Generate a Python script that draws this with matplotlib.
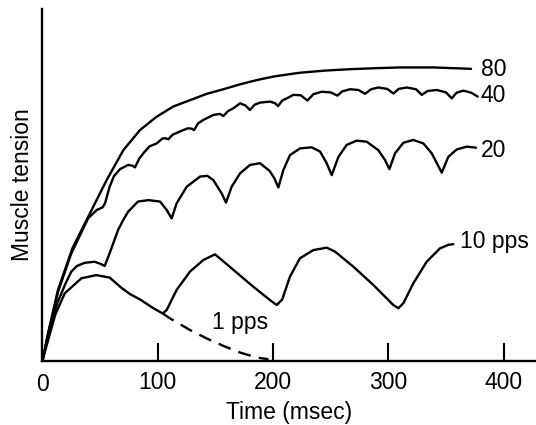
import matplotlib
matplotlib.use("Agg")
import matplotlib.pyplot as plt

plt.rcParams['font.family'] = ['Liberation Sans', 'DejaVu Sans']

# tension, arbitrary units (0 = baseline, 100 = top of axis)
t80 = [0, 5, 13.5, 26, 41.3, 55.7, 70.2, 84.6, 99.1, 113.5, 128, 142.5, 156.9,
       171.4, 185.8, 200.3, 214.7, 223.4, 245, 266.8, 290, 310.1, 339, 371.7]
T80 = [0, 8, 20.2, 32, 42.0, 51.4, 59.9, 65.6, 69.4, 72.3, 74.1, 75.9, 77.2,
       78.6, 79.8, 80.8, 81.5, 81.9, 82.5, 82.9, 83.2, 83.4, 83.4, 83.0]

t40 = [0, 5, 13.5, 25, 39.6, 47.1, 52, 54.3, 58.3, 62, 67.3, 74.3, 78, 80.3,
       84, 87.5, 93, 99.1, 104, 106.5, 109.2, 113, 119.3, 126, 129.5, 131.5,
       135, 139.6, 148.2, 154, 156.9, 161, 165.6, 171.4, 176, 180, 184, 188.7,
       197.4, 202, 204.3, 208, 211.8, 217.6, 224, 229.8, 235, 242.2, 250, 255.8,
       260, 266.8, 274, 279.8, 285, 291.3, 299, 304.4, 309, 316, 324, 329,
       334, 342, 350, 355, 359, 365.1, 372, 377.5]
T40 = [0, 7.8, 19.6, 30.5, 40.5, 42.9, 43.6, 44.8, 49.5, 52.5, 54.5, 55.7, 55.5, 55.0,
       57.5, 59.0, 61.0, 61.8, 63.2, 63.3, 63.0, 64.3, 65.2, 66.1, 66.0, 65.6,
       67.5, 68.5, 69.9, 70.2, 69.6, 71.0, 71.8, 73.2, 72.6, 71.3, 72.8, 73.4,
       73.7, 73.2, 72.4, 74.0, 74.6, 75.6, 75.5, 74.0, 75.8, 76.5, 76.3, 75.4,
       76.6, 77.2, 77.0, 75.9, 77.2, 77.7, 77.3, 76.0, 77.3, 77.7, 77.2, 75.6,
       76.7, 77.0, 76.3, 74.6, 76.2, 76.8, 76.2, 75.1]

t20 = [0, 6, 13, 20, 25.1, 30, 36.7, 45.3, 51.1, 54.0, 58.3, 65.6, 70, 74.3,
       82.9, 92, 102, 107.8, 112.1, 116.4, 125.1, 136.7, 143, 148.2, 155.5, 159.2,
       164.1, 171.4, 180, 188.7, 197, 201, 204.6, 209, 214.7, 223.4, 233.5, 240.8,
       246.5, 250.9, 256.7, 263.9, 272.5, 281.2, 291.3, 297.1, 300.9, 305.8, 313,
       321.7, 330.4, 337.6, 346.3, 352, 359.3, 368, 376]
T20 = [0, 8.5, 16.5, 22, 25.4, 27.0, 27.9, 28.2, 27.5, 27.0, 30.6, 37.2, 40.0, 42.4,
       45.3, 45.7, 45.3, 42.9, 40.5, 44.8, 49.5, 52.4, 52.6, 51.4, 47.6, 45.0,
       49.5, 53.3, 55.7, 56.2, 54.0, 52.0, 49.3, 54.3, 58.5, 60.4, 60.7, 59.5,
       56.2, 52.8, 58.0, 61.4, 62.6, 62.3, 59.9, 57.1, 54.5, 59.0, 62.0,
       62.8, 61.8, 59.0, 53.5, 58.0, 60.1, 60.9, 60.6]

t10 = [0, 5, 11, 19.3, 33.8, 46.8, 58.3, 68.5, 76, 84.6, 96.2, 104.3, 107.8,
       116.4, 128, 139.6, 149.7, 165.6, 182.9, 197.4, 203.2, 208, 214.7, 223.4,
       234.9, 246.5, 253.7, 269.6, 287, 304.3, 308.7, 313, 321.7, 333.2, 344.8,
       352, 356.3]
T10 = [0, 6, 13, 19.2, 23.5, 24.4, 23.7, 20.8, 19.0, 17.5, 15.0, 13.5, 14.5,
       20.2, 25.4, 28.7, 30.3, 25.9, 21.1, 17.3, 15.9, 17.5, 24.0, 29.2,
       31.5, 32.2, 31.1, 26.8, 21.6, 15.9, 15.0, 16.4, 22.1, 28.2, 32.0,
       33.0, 33.2]

t1 = [104.3, 110.7, 128, 142.5, 156.9, 171.4, 185.8, 196]
T1 = [13.5, 12.1, 8.8, 6.4, 4.3, 2.4, 1.0, 0.5]

labels = ["80", "40", "20", "10 pps", "1 pps"]
label_t = [380, 380, 380, 362, 147]
label_T = [81.0, 73.7, 58.0, 32.0, 9.0]

fs = 16.5

fig = plt.figure(figsize=(5.36, 4.25), dpi=100)
ax = fig.add_axes([42.4 / 536, 64 / 425, (536 - 42.4) / 536, 352 / 425])

lw = 1.7
style = dict(color='black', lw=lw, solid_joinstyle='round', solid_capstyle='round')
ax.plot(t80, T80, **style)
ax.plot(t40, T40, **style)
ax.plot(t20, T20, **style)
ax.plot(t10, T10, **style)
ax.plot(t1, T1, color='black', lw=lw, dashes=(5.5, 3.5))

for s, x, y in zip(labels, label_t, label_T):
    ax.text(x, y, s, fontsize=fs, ha='left', va='baseline')

ax.set_xlim(0, (536 - 42.4) / 1.1532)
ax.set_ylim(0, 100)
ax.spines['top'].set_visible(False)
ax.spines['right'].set_visible(False)
ax.spines['left'].set_linewidth(1.7)
ax.spines['bottom'].set_linewidth(1.7)
ax.set_xticks([100, 200, 300, 400])
ax.set_yticks([])
ax.tick_params(axis='x', direction='in', length=13, width=1.5, pad=7, labelsize=fs)
ax.text(0, -0.035, "0", transform=ax.get_xaxis_transform(), fontsize=fs,
        ha='center', va='top')
ax.set_xlabel("Time (msec)", fontsize=fs, labelpad=5)
ax.set_ylabel("Muscle tension", fontsize=fs, labelpad=6)

fig.savefig("out.png", dpi=100)
